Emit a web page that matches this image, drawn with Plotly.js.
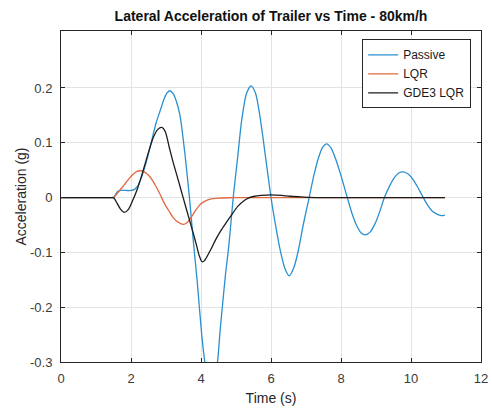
<!DOCTYPE html>
<html>
<head>
<meta charset="utf-8">
<script src="https://cdn.plot.ly/plotly-3.0.1.min.js"></script>
<style>
  html, body { margin: 0; padding: 0; background: #fff; }
  #chart { width: 492px; height: 411px; }
</style>
</head>
<body>
<div id="chart"></div>
<script>
// Lateral acceleration of the trailer (g) against time (s), three controllers.
const passiveT = [0, 0.5, 1.0, 1.3, 1.45, 1.5, 1.56, 1.62, 1.7, 1.85, 2.0, 2.1, 2.2, 2.3, 2.45, 2.59, 2.72, 2.83, 2.95, 3.03, 3.11, 3.2, 3.3, 3.4, 3.54, 3.67, 3.78, 3.89, 4.02, 4.11, 4.2, 4.29, 4.38, 4.47, 4.55, 4.7, 4.8, 4.92, 5.05, 5.16, 5.3, 5.43, 5.56, 5.68, 5.78, 6.0, 6.13, 6.26, 6.4, 6.52, 6.65, 6.78, 6.92, 7.09, 7.22, 7.34, 7.47, 7.59, 7.72, 7.85, 8.0, 8.18, 8.31, 8.44, 8.57, 8.7, 8.83, 8.97, 9.1, 9.24, 9.38, 9.51, 9.65, 9.78, 9.92, 10.06, 10.2, 10.35, 10.49, 10.63, 10.77, 10.88, 10.97];
const passiveG = [0, 0, 0, 0, 0, 0, 0.006, 0.011, 0.013, 0.013, 0.013, 0.015, 0.022, 0.037, 0.068, 0.104, 0.137, 0.158, 0.181, 0.191, 0.195, 0.190, 0.175, 0.150, 0.080, 0.0, -0.079, -0.152, -0.250, -0.300, -0.327, -0.335, -0.327, -0.300, -0.240, -0.140, -0.085, 0.0, 0.075, 0.140, 0.190, 0.204, 0.190, 0.150, 0.105, 0.0, -0.050, -0.095, -0.130, -0.143, -0.128, -0.097, -0.050, 0.0, 0.039, 0.069, 0.091, 0.098, 0.090, 0.070, 0.040, 0.0, -0.028, -0.050, -0.064, -0.068, -0.063, -0.048, -0.027, 0.0, 0.020, 0.035, 0.045, 0.047, 0.043, 0.033, 0.018, 0.0, -0.015, -0.026, -0.031, -0.033, -0.032];

const lqrT = [0, 0.5, 1.0, 1.3, 1.45, 1.5, 1.6, 1.7, 1.83, 1.95, 2.07, 2.17, 2.26, 2.38, 2.54, 2.7, 2.83, 2.95, 3.08, 3.2, 3.35, 3.49, 3.6, 3.7, 3.78, 3.87, 3.97, 4.1, 4.26, 4.5, 4.8, 5.2, 5.6, 6.0, 7.0, 8.0, 9.0, 10.0, 10.97];
const lqrG = [0, 0, 0, 0, 0, 0, 0.007, 0.015, 0.025, 0.035, 0.043, 0.048, 0.049, 0.047, 0.038, 0.022, 0.006, -0.010, -0.024, -0.036, -0.045, -0.049, -0.046, -0.038, -0.030, -0.021, -0.013, -0.007, -0.003, -0.001, -0.0003, 0, 0, 0, 0, 0, 0, 0, 0];

const gde3T = [0, 0.5, 1.0, 1.3, 1.45, 1.5, 1.6, 1.7, 1.81, 1.92, 2.05, 2.16, 2.28, 2.4, 2.52, 2.64, 2.76, 2.88, 2.98, 3.1, 3.21, 3.35, 3.49, 3.6, 3.69, 3.8, 3.88, 3.95, 4.03, 4.1, 4.26, 4.45, 4.6, 4.75, 4.89, 5.05, 5.2, 5.35, 5.5, 5.73, 6.0, 6.3, 6.54, 6.8, 7.1, 7.5, 8.0, 9.0, 10.0, 10.97];
const gde3G = [0, 0, 0, 0, 0, 0, -0.010, -0.021, -0.027, -0.022, -0.005, 0.012, 0.035, 0.061, 0.087, 0.110, 0.124, 0.128, 0.120, 0.090, 0.063, 0.032, 0.0, -0.025, -0.045, -0.070, -0.089, -0.106, -0.117, -0.115, -0.097, -0.073, -0.057, -0.043, -0.030, -0.016, -0.007, -0.001, 0.002, 0.004, 0.005, 0.004, 0.0025, 0.0015, 0.0005, 0, 0, 0, 0, 0];

const seriesNames = ['Passive', 'LQR', 'GDE3 LQR'];
const seriesColors = ['#2a90cf', '#e2683f', '#1c1c1c'];

const xTickVals = [0, 2, 4, 6, 8, 10, 12];
const xTickText = ['0', '2', '4', '6', '8', '10', '12'];
const yTickVals = [-0.3, -0.2, -0.1, 0, 0.1, 0.2];
const yTickText = ['-0.3', '-0.2', '-0.1', '0', '0.1', '0.2'];

const axisColor = '#262626';
const gridColor = '#e3e3e3';
const font = 'Liberation Sans, Arial, sans-serif';

const xs = [passiveT, lqrT, gde3T];
const ys = [passiveG, lqrG, gde3G];

const traces = seriesNames.map((name, i) => ({
  x: xs[i],
  y: ys[i],
  name: name,
  type: 'scatter',
  mode: 'lines',
  line: { color: seriesColors[i], width: 1.3, shape: 'spline', smoothing: 0.7 },
  hoverinfo: 'skip'
}));

const axisCommon = {
  showline: true,
  linecolor: axisColor,
  linewidth: 1,
  mirror: 'ticks',
  ticks: 'inside',
  ticklen: 4,
  tickwidth: 1,
  tickcolor: axisColor,
  showgrid: true,
  gridcolor: gridColor,
  gridwidth: 1,
  zeroline: false,
  tickfont: { family: font, size: 13, color: '#3a3a3a' },
  fixedrange: true
};

const layout = {
  width: 492,
  height: 411,
  margin: { l: 61, r: 11, t: 31, b: 49 },
  paper_bgcolor: '#ffffff',
  plot_bgcolor: '#ffffff',
  title: {
    text: '<b>Lateral Acceleration of Trailer vs Time - 80km/h</b>',
    font: { family: font, size: 14, color: '#111111' },
    x: 0.5,
    xref: 'paper',
    xanchor: 'center',
    y: 1,
    yref: 'container',
    yanchor: 'top',
    pad: { t: 11 }
  },
  xaxis: Object.assign({}, axisCommon, {
    range: [0, 12],
    tickmode: 'array',
    tickvals: xTickVals,
    ticktext: xTickText,
    ticklabelstandoff: 4,
    title: { text: 'Time (s)', font: { family: font, size: 14, color: '#262626' }, standoff: 8 }
  }),
  yaxis: Object.assign({}, axisCommon, {
    range: [-0.3, 0.304],
    tickmode: 'array',
    tickvals: yTickVals,
    ticktext: yTickText,
    ticklabelstandoff: 5,
    title: { text: 'Acceleration (g)', font: { family: font, size: 14, color: '#262626' }, standoff: 0 }
  }),
  showlegend: true,
  legend: {
    x: 0.717,
    y: 0.975,
    xanchor: 'left',
    yanchor: 'top',
    bgcolor: '#ffffff',
    bordercolor: axisColor,
    borderwidth: 1,
    font: { family: font, size: 12, color: '#1a1a1a' },
    tracegroupgap: 0,
    itemwidth: 30
  }
};

Plotly.newPlot('chart', traces, layout, { staticPlot: true, displayModeBar: false });
</script>
</body>
</html>
